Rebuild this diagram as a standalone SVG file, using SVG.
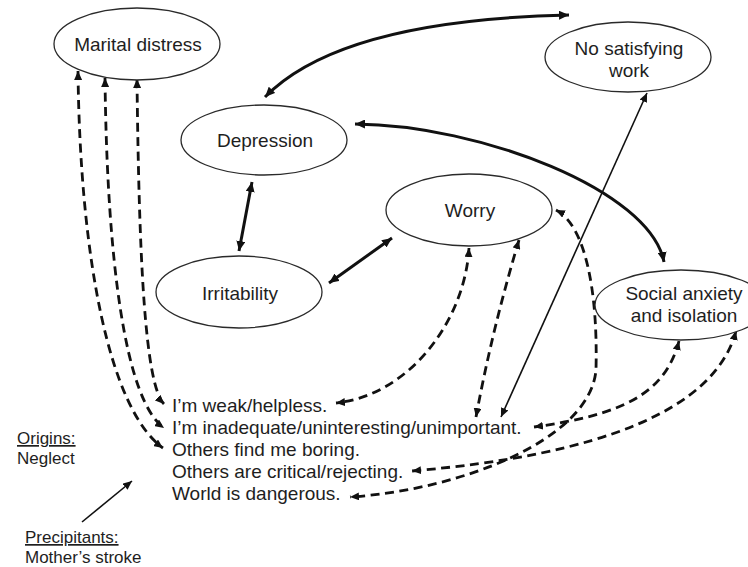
<svg xmlns="http://www.w3.org/2000/svg" width="748" height="567" viewBox="0 0 748 567">
<style>
  .node ellipse { fill: #fff; stroke: #2a2a2a; stroke-width: 1.3; }
  text { font-family: "Liberation Sans", Arial, sans-serif; fill: #1e1e1e; }
  .lbl { font-size: 19px; text-anchor: middle; }
  .belief { font-size: 19px; }
  .side { font-size: 17px; }
  .thick { fill: none; stroke: #111; stroke-width: 3; }
  .thin { fill: none; stroke: #111; stroke-width: 1.6; }
  .dash { fill: none; stroke: #111; stroke-width: 2.8; stroke-dasharray: 9 5.5; }
</style>
<defs>
  <marker id="ah" markerUnits="userSpaceOnUse" markerWidth="11" markerHeight="9" refX="10" refY="4.5" orient="auto-start-reverse">
    <path d="M0,0 L10,4.5 L0,9 z" fill="#111"/>
  </marker>
  <marker id="ahd" markerUnits="userSpaceOnUse" markerWidth="10" markerHeight="8" refX="9" refY="4" orient="auto-start-reverse">
    <path d="M0,0 L9,4 L0,8 z" fill="#111"/>
  </marker>
  <marker id="aht" markerUnits="userSpaceOnUse" markerWidth="10" markerHeight="8" refX="9" refY="4" orient="auto-start-reverse">
    <path d="M0,0 L9,4 L0,8 z" fill="#111"/>
  </marker>
</defs>

<g id="connectors">
  <path class="thick" d="M265,97 Q340,20 569,15" marker-start="url(#ah)" marker-end="url(#ah)"/>
  <path class="thick" d="M355,124 C480,125 650,190 664,262" marker-start="url(#ah)" marker-end="url(#ah)"/>
  <path class="thick" d="M252,182 L239,251" marker-start="url(#ah)" marker-end="url(#ah)"/>
  <path class="thick" d="M329,283 L392,238" marker-start="url(#ah)" marker-end="url(#ah)"/>
  <path class="thin" d="M501,417 L647,93" marker-start="url(#aht)" marker-end="url(#aht)"/>
  <path class="dash" d="M78,71 C80,260 110,410 163,448" marker-start="url(#ahd)" marker-end="url(#ahd)"/>
  <path class="dash" d="M105,78 C107,260 125,400 164,428" marker-start="url(#ahd)" marker-end="url(#ahd)"/>
  <path class="dash" d="M137,79 C139,260 145,385 164,404" marker-start="url(#ahd)" marker-end="url(#ahd)"/>
  <path class="dash" d="M469,248 C465,320 410,395 336,403" marker-start="url(#ahd)" marker-end="url(#ahd)"/>
  <path class="dash" d="M519,240 Q492,330 476,417" marker-start="url(#ahd)" marker-end="url(#ahd)"/>
  <path class="dash" d="M556,210 C585,225 598,290 596,370 C590,440 460,490 350,497" marker-start="url(#ahd)" marker-end="url(#ahd)"/>
  <path class="dash" d="M679,341 C665,395 620,415 534,427" marker-start="url(#ahd)" marker-end="url(#ahd)"/>
  <path class="dash" d="M736,331 C715,410 600,455 412,471" marker-start="url(#ahd)" marker-end="url(#ahd)"/>
  <path class="thin" d="M82,522 L132,481" marker-end="url(#aht)"/>
</g>

<g id="marital" class="node">
  <ellipse cx="137" cy="44" rx="83" ry="36"/>
  <text class="lbl" x="138" y="51">Marital distress</text>
</g>
<g id="depression" class="node">
  <ellipse cx="264" cy="140" rx="83" ry="35"/>
  <text class="lbl" x="265" y="147">Depression</text>
</g>
<g id="nowork" class="node">
  <ellipse cx="628" cy="57" rx="83" ry="35"/>
  <text class="lbl" x="629" y="55">No satisfying</text>
  <text class="lbl" x="629" y="77">work</text>
</g>
<g id="irritability" class="node">
  <ellipse cx="239" cy="292" rx="83" ry="36"/>
  <text class="lbl" x="240" y="300">Irritability</text>
</g>
<g id="worry" class="node">
  <ellipse cx="469" cy="210" rx="83" ry="36"/>
  <text class="lbl" x="470" y="217">Worry</text>
</g>
<g id="social" class="node">
  <ellipse cx="681" cy="305" rx="86" ry="35"/>
  <text class="lbl" x="684" y="300">Social anxiety</text>
  <text class="lbl" x="684" y="322">and isolation</text>
</g>

<g id="beliefs">
  <text class="belief" x="172" y="412">I’m weak/helpless.</text>
  <text class="belief" x="172" y="434">I’m inadequate/uninteresting/unimportant.</text>
  <text class="belief" x="172" y="456">Others find me boring.</text>
  <text class="belief" x="172" y="478">Others are critical/rejecting.</text>
  <text class="belief" x="172" y="500">World is dangerous.</text>
</g>

<g id="origins">
  <text class="side" x="17" y="444" text-decoration="underline">Origins:</text>
  <text class="side" x="17" y="464">Neglect</text>
</g>
<g id="precipitants">
  <text class="side" x="25" y="543" text-decoration="underline">Precipitants:</text>
  <text class="side" x="25" y="563">Mother’s stroke</text>
</g>
</svg>
